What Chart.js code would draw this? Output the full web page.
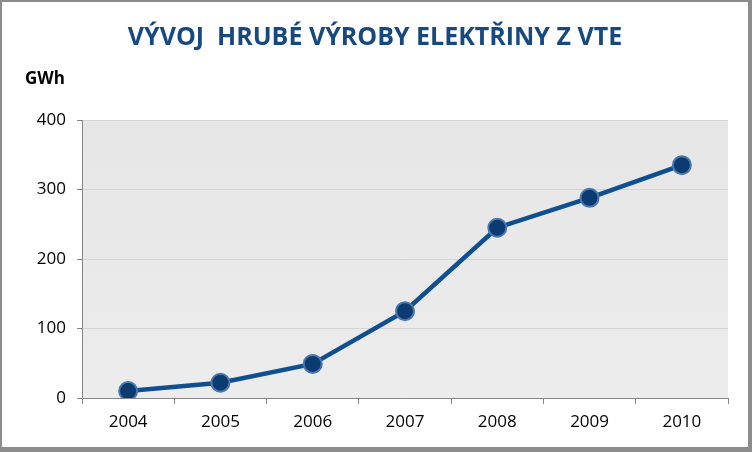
<!DOCTYPE html>
<html>
<head>
<meta charset="utf-8">
<script src="https://cdn.jsdelivr.net/npm/chart.js@4"></script>
<style>
  html, body { margin: 0; padding: 0; background: #fff; }
  #wrap { position: relative; width: 752px; height: 452px; }
</style>
</head>
<body>
<div id="wrap"><canvas id="chart" width="752" height="452"></canvas></div>
<script>
const years = ['2004', '2005', '2006', '2007', '2008', '2009', '2010'];
const production = [10, 22, 49, 125, 245, 288, 335];
const yTicks = [0, 100, 200, 300, 400];

const titleText = 'VÝVOJ  HRUBÉ VÝROBY ELEKTŘINY Z VTE';
const unitText = 'GWh';

// plot background + frame + texts
const decor = {
    id: 'decor',
    beforeDraw(chart) {
        const { ctx, chartArea: a } = chart;
        ctx.save();
        const g = ctx.createLinearGradient(0, a.top, 0, a.bottom);
        g.addColorStop(0, '#e6e6e6');
        g.addColorStop(1, '#ececec');
        ctx.fillStyle = g;
        ctx.fillRect(a.left, a.top, a.right - a.left, a.bottom - a.top);
        ctx.restore();
    },
    afterDraw(chart) {
        const ctx = chart.ctx;
        ctx.save();
        ctx.fillStyle = '#17487f';
        ctx.font = 'bold 25px "Open Sans", sans-serif';
        ctx.textAlign = 'center';
        ctx.textBaseline = 'middle';
        ctx.fillText(titleText, 375, 38);

        ctx.fillStyle = '#000';
        ctx.font = 'bold 17px "Open Sans", sans-serif';
        ctx.textAlign = 'left';
        ctx.fillText(unitText, 25, 79);

        // outer frame
        ctx.fillStyle = '#8c8c8c';
        ctx.fillRect(0, 0, 752, 2);
        ctx.fillRect(0, 0, 2, 452);
        ctx.fillRect(748, 0, 4, 452);
        ctx.fillRect(0, 447, 752, 5);
        ctx.restore();
    }
};

new Chart(document.getElementById('chart'), {
    type: 'line',
    data: {
        labels: years,
        datasets: [{
            data: production,
            borderColor: '#0f4e8f',
            borderWidth: 4.5,
            pointRadius: 9,
            pointHoverRadius: 9,
            pointBackgroundColor: '#0b3b70',
            pointBorderColor: '#4a78b0',
            pointBorderWidth: 2,
            tension: 0
        }]
    },
    options: {
        responsive: false,
        animation: false,
        layout: { padding: { top: 120, right: 24, bottom: 0, left: 0 } },
        plugins: {
            legend: { display: false },
            tooltip: { enabled: false }
        },
        scales: {
            x: {
                offset: true,
                grid: {
                    offset: true,
                    drawOnChartArea: false,
                    drawTicks: true,
                    tickLength: 6,
                    tickColor: '#868686'
                },
                border: { color: '#868686', width: 1 },
                ticks: {
                    color: '#000',
                    padding: 8,
                    font: { family: '"Open Sans", sans-serif', size: 17 }
                },
                afterFit(scale) { scale.height = 54; }
            },
            y: {
                min: 0,
                max: 400,
                afterBuildTicks(scale) { scale.ticks = yTicks.map(v => ({ value: v })); },
                grid: {
                    color: '#d4d4d4',
                    tickColor: '#868686',
                    tickLength: 5
                },
                border: { color: '#868686', width: 1 },
                ticks: {
                    color: '#000',
                    padding: 11,
                    font: { family: '"Open Sans", sans-serif', size: 17 }
                },
                afterFit(scale) { scale.width = 82; }
            }
        }
    },
    plugins: [decor]
});
</script>
</body>
</html>
